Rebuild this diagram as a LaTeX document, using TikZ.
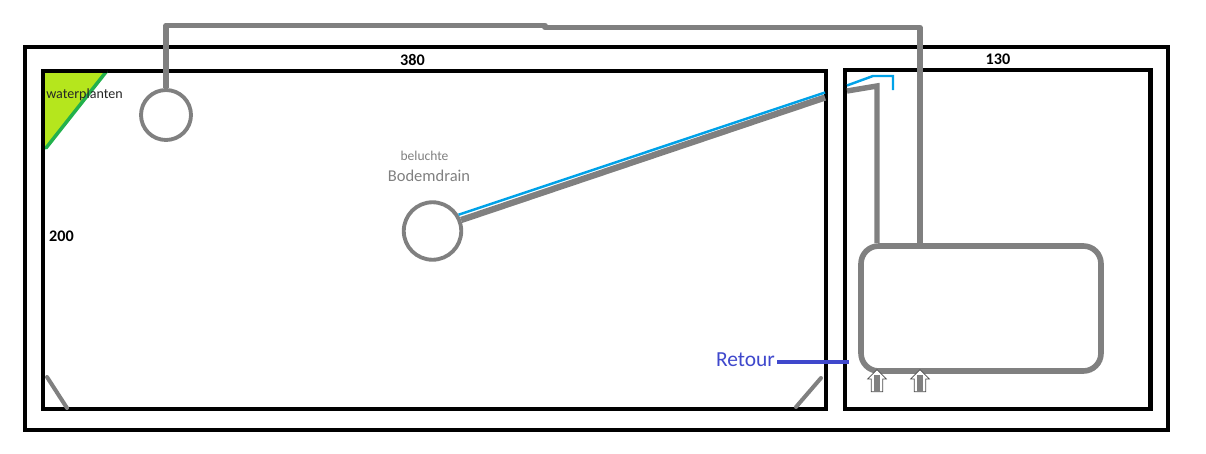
\documentclass[tikz,border=0pt]{standalone}
\usepackage{fontspec}
\setmainfont{Carlito}
\usetikzlibrary{shapes.arrows}
\definecolor{pipegray}{RGB}{128,128,128}
\definecolor{pipeblue}{RGB}{0,162,232}
\definecolor{retourblue}{RGB}{63,72,204}
\definecolor{plantgreen}{RGB}{181,230,29}
\definecolor{edgegreen}{RGB}{34,177,76}
\tikzset{
  wall/.style={draw=black, line width=2.3pt, inner sep=0pt},
  pipe/.style={draw=pipegray, line width=3.1pt, line join=round},
  thinpipe/.style={draw=pipeblue, line width=1.4pt},
  drain/.style={draw=pipegray, fill=white, circle, line width=2.2pt, inner sep=0pt},
  pump/.style={draw=black!70, fill=white, single arrow, shape border rotate=90, line width=0.4pt,
    minimum width=10.5pt, minimum height=12.5pt, single arrow head extend=2pt, inner sep=3pt},
  stem/.style={draw=pipegray, line width=3.4pt},
}
\begin{document}
\begin{tikzpicture}[x=0.02cm, y=-0.02cm]
\useasboundingbox (0,0) rectangle (1206,453);

\node[wall, minimum width=22.86cm, minimum height=7.66cm] (outer) at (596.5,238.5) {};
\node[wall, minimum width=15.66cm, minimum height=6.76cm] (pond) at (434.5,240) {};
\node[wall, minimum width=6.12cm, minimum height=6.8cm] (filter) at (997.5,239.5) {};

% plants
\coordinate (p0) at (106,72);
\coordinate (p1) at (46,148);
\coordinate (p2) at (44,72);
\fill[plantgreen] (p2) to (p0) to (p1) to (44,148) -- cycle;
\draw[draw=edgegreen, line width=2pt, line cap=round] (p0) to (p1);
\draw[wall] (41,71) to (107,71);
\draw[wall] (43,71) to (43,150);

% sump
\node[draw=pipegray, fill=white, line width=3.2pt, rounded corners=10pt, minimum width=4.8cm, minimum height=2.5cm, inner sep=0pt] (sump) at (981,308.5) {};

\node[drain, minimum size=1.0cm] (skim) at (166,115) {};
\node[drain, minimum size=1.15cm] (bottom) at (432.5,231) {};

% return line on top
\coordinate (t0) at (166,25.5);
\coordinate (t1) at (545,25.5);
\coordinate (t2) at (545,27.5);
\coordinate (t3) at (920,27.5);
\draw[pipe] (skim.north) to (t0) to (t1) to (t2) to (t3) to (920,243);

% drain lines
\coordinate (g0) at (825,97.5);
\coordinate (g1) at (847,91);
\coordinate (g2) at (877,86);
\draw[pipe, line width=3.6pt] (bottom.21) to (g0);
\draw[pipe, line join=miter] (g1) to (g2) to (877,243);
\coordinate (b0) at (825,92.5);
\coordinate (b1) at (847,85.5);
\coordinate (b2) at (873,76);
\coordinate (b3) at (893,76);
\coordinate (b4) at (893,90);
\draw[thinpipe] (bottom.32) to (b0);
\draw[thinpipe] (b1) to (b2) to (b3) to (b4);

% corners
\coordinate (c0) at (47,377);
\coordinate (c1) at (67,408);
\coordinate (c2) at (821,378);
\coordinate (c3) at (796,407);
\draw[pipe, line width=2.3pt, line cap=round] (c0) to (c1);
\draw[pipe, line width=2.3pt, line cap=round] (c2) to (c3);

% pumps
\node[pump] (pump1) at (877,383.5) {};
\node[pump] (pump2) at (920,383.5) {};
\draw[stem] (877,375) to (877,392);
\draw[stem] (920,375) to (920,392);

% return
\node[text=retourblue, font=\fontsize{12.2}{14}\selectfont, inner sep=0pt] (retour) at (745.5,359.5) {Retour};
\coordinate (r1) at (849,362);
\draw[draw=retourblue, line width=2.3pt] (777,362) to (r1);

% labels
\node[font=\fontsize{9.2}{11}\selectfont\bfseries, inner sep=0pt] (l380) at (412.5,60) {380};
\node[font=\fontsize{9.2}{11}\selectfont\bfseries, inner sep=0pt] (l130) at (998,59.5) {130};
\node[font=\fontsize{9.2}{11}\selectfont\bfseries, inner sep=0pt] (l200) at (61.5,236) {200};
\node[font=\fontsize{8}{10}\selectfont, text=black!85, inner sep=0pt] (plants) at (84.5,94.5) {waterplanten};
\node[font=\fontsize{7.7}{9}\selectfont, text=black!50, inner sep=0pt] (air) at (424.5,156) {beluchte};
\node[font=\fontsize{9.4}{11}\selectfont, text=black!50, inner sep=0pt] (name) at (429,176) {Bodemdrain};
\end{tikzpicture}
\end{document}
